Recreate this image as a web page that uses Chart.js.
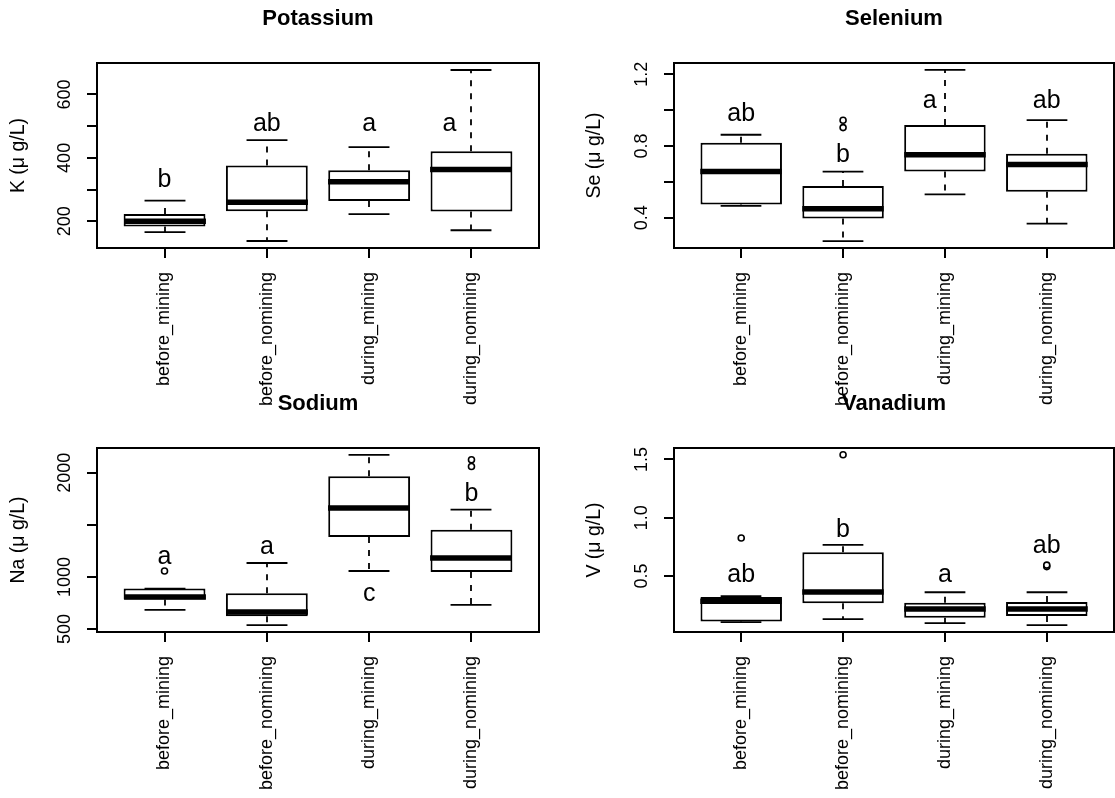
<!DOCTYPE html>
<html>
<head>
<meta charset="utf-8">
<script src="https://cdn.jsdelivr.net/npm/chart.js@4.4.1/dist/chart.umd.min.js"></script>
<style>
  html, body { margin: 0; padding: 0; background: #fff; }
  #fig { position: relative; width: 1115px; height: 798px; overflow: hidden; background: #fff; }
  #fig canvas { position: absolute; }
</style>
</head>
<body>
<div id="fig">
  <canvas id="cK"  style="left:0px;top:0px"     width="557" height="420"></canvas>
  <canvas id="cSe" style="left:557px;top:0px"   width="558" height="420"></canvas>
  <canvas id="cNa" style="left:0px;top:385px"   width="557" height="413"></canvas>
  <canvas id="cV"  style="left:557px;top:385px" width="558" height="413"></canvas>
</div>
<script>
	// groups on the x axis
	var groups = ['before_mining', 'before_nomining', 'during_mining', 'during_nomining'];

	// Potassium: whisker low, Q1, median, Q3, whisker high
	var kLow  = [166, 138, 223, 172];
	var kQ1   = [184, 232, 264, 231];
	var kMed  = [200, 260, 325, 363];
	var kQ3   = [223, 376, 361, 421];
	var kHigh = [265, 456, 434, 677];
	var kOutGroup = [];
	var kOutVal   = [];
	var kTicks      = [200, 300, 400, 500, 600];
	var kTickLabels = ['200', '', '400', '', '600'];
	var kLetters = ['b', 'ab', 'a', 'a'];
	var kLetterX = [1, 2, 3, 3.785];
	var kLetterY = [308, 485, 485, 485];

	// Selenium
	var seLow  = [0.467, 0.270, 0.531, 0.368];
	var seQ1   = [0.474, 0.397, 0.658, 0.546];
	var seMed  = [0.658, 0.451, 0.751, 0.698];
	var seQ3   = [0.818, 0.578, 0.917, 0.757];
	var seHigh = [0.863, 0.658, 1.225, 0.945];
	var seOutGroup = [2, 2];
	var seOutVal   = [0.903, 0.944];
	var seTicks      = [0.4, 0.6, 0.8, 1.0, 1.2];
	var seTickLabels = ['0.4', '', '0.8', '', '1.2'];
	var seLetters = ['ab', 'b', 'a', 'ab'];
	var seLetterX = [1, 2, 2.85, 4];
	var seLetterY = [0.94, 0.709, 1.014, 1.014];

	// Sodium
	var naLow  = [684, 537, 1057, 732];
	var naQ1   = [783, 624, 1383, 1048];
	var naMed  = [808, 665, 1661, 1182];
	var naQ3   = [889, 844, 1965, 1454];
	var naHigh = [889, 1134, 2172, 1646];
	var naOutGroup = [1, 4, 4];
	var naOutVal   = [1057, 2060, 2125];
	var naTicks      = [500, 1000, 1500, 2000];
	var naTickLabels = ['500', '1000', '', '2000'];
	var naLetters = ['a', 'a', 'c', 'b'];
	var naLetterX = [1, 2, 3, 4];
	var naLetterY = [1122, 1217, 767, 1728];

	// Vanadium
	var vLow  = [0.103, 0.129, 0.095, 0.077];
	var vQ1   = [0.109, 0.266, 0.140, 0.155];
	var vMed  = [0.283, 0.363, 0.217, 0.217];
	var vQ3   = [0.320, 0.703, 0.269, 0.277];
	var vHigh = [0.326, 0.766, 0.360, 0.360];
	var vOutGroup = [1, 2, 4, 4];
	var vOutVal   = [0.826, 1.54, 0.580, 0.593];
	var vTicks      = [0.5, 1.0, 1.5];
	var vTickLabels = ['0.5', '1.0', '1.5'];
	var vLetters = ['ab', 'b', 'a', 'ab'];
	var vLetterX = [1, 2, 3, 4];
	var vLetterY = [0.449, 0.834, 0.449, 0.697];

	var FONT = "'Liberation Sans', Arial, Helvetica, sans-serif";

	// R style extras: whiskers, medians, frame, title, rotated y labels, letters
	function boxExtras(p) {
		function seg(ctx, x1, y1, x2, y2) {
			ctx.beginPath();
			ctx.moveTo(x1, y1);
			ctx.lineTo(x2, y2);
			ctx.stroke();
		}
		return {
			id: 'boxExtras',
			afterDatasetsDraw: function(chart) {
				var ctx = chart.ctx, x = chart.scales.x, y = chart.scales.y;
				var bw = chart.getDatasetMeta(0).data[0].width;
				ctx.save();
				ctx.strokeStyle = '#000';
				ctx.lineCap = 'butt';
				for (var i = 0; i < groups.length; i++) {
					var cx = Math.round(x.getPixelForValue(i + 1));
					var yLo = y.getPixelForValue(p.low[i]), yQ1 = y.getPixelForValue(p.q1[i]);
					var yMe = y.getPixelForValue(p.med[i]), yQ3 = y.getPixelForValue(p.q3[i]);
					var yHi = y.getPixelForValue(p.high[i]);
					ctx.lineWidth = 1.8;
					ctx.setLineDash([6, 7]);
					seg(ctx, cx, yQ3, cx, yHi);
					seg(ctx, cx, yQ1, cx, yLo);
					ctx.setLineDash([]);
					seg(ctx, cx - bw / 4, yHi, cx + bw / 4, yHi);
					seg(ctx, cx - bw / 4, yLo, cx + bw / 4, yLo);
					ctx.lineWidth = 5.5;
					seg(ctx, cx - bw / 2, yMe, cx + bw / 2, yMe);
				}
				ctx.restore();
			},
			afterDraw: function(chart) {
				var ctx = chart.ctx, a = chart.chartArea, x = chart.scales.x, y = chart.scales.y;
				ctx.save();
				ctx.strokeStyle = '#000';
				ctx.lineWidth = 2;
				ctx.strokeRect(a.left, a.top, a.right - a.left, a.bottom - a.top);

				ctx.fillStyle = '#000';
				ctx.textAlign = 'center';
				ctx.textBaseline = 'middle';
				ctx.font = 'bold 22px ' + FONT;
				ctx.fillText(p.title, (a.left + a.right) / 2, a.top - 44);

				ctx.font = '18px ' + FONT;
				p.ticks.forEach(function(v, i) {
					if (!p.tickLabels[i]) return;
					ctx.save();
					ctx.translate(a.left - 32, y.getPixelForValue(v));
					ctx.rotate(-Math.PI / 2);
					ctx.fillText(p.tickLabels[i], 0, 0);
					ctx.restore();
				});

				ctx.font = '25px ' + FONT;
				ctx.textBaseline = 'alphabetic';
				p.letters.forEach(function(t, i) {
					ctx.fillText(t, x.getPixelForValue(p.letterX[i]), y.getPixelForValue(p.letterY[i]));
				});
				ctx.restore();
			}
		};
	}

	function makePanel(id, p) {
		var ctx = document.getElementById(id).getContext('2d');
		var tickGrid = { display: true, offset: false, drawOnChartArea: false, drawTicks: true, tickLength: 10, color: '#000', lineWidth: 2 };
		return new Chart(ctx, {
			type: 'bar',
			data: {
				datasets: [{
					type: 'bar',
					data: groups.map(function(g, i) { return { x: i + 1, y: [p.q1[i], p.q3[i]] }; }),
					backgroundColor: '#fff',
					borderColor: '#000',
					borderWidth: 2,
					borderSkipped: false,
					barPercentage: 0.8,
					categoryPercentage: 1
				}, {
					type: 'scatter',
					data: p.outGroup.map(function(g, i) { return { x: g, y: p.outVal[i] }; }),
					pointRadius: 3,
					pointBorderWidth: 1.6,
					pointBackgroundColor: '#fff',
					pointBorderColor: '#000'
				}]
			},
			options: {
				responsive: false,
				animation: false,
				events: [],
				layout: { autoPadding: false, padding: { top: 63, right: p.padRight, bottom: 0, left: 0 } },
				plugins: { legend: { display: false }, tooltip: { enabled: false }, title: { display: false } },
				scales: {
					x: {
						type: 'linear', min: 0.34, max: 4.66, offset: false,
						afterBuildTicks: function(s) { s.ticks = groups.map(function(g, i) { return { value: i + 1 }; }); },
						afterFit: function(s) { s.height = p.xAxisH; s.paddingLeft = 0; s.paddingRight = 0; },
						grid: tickGrid,
						border: { display: false },
						ticks: {
							autoSkip: false, minRotation: 90, maxRotation: 90, padding: 14, color: '#000',
							font: { family: FONT, size: 18 },
							callback: function(v) { return groups[Math.round(v) - 1]; }
						}
					},
					y: {
						type: 'linear', min: p.yMin, max: p.yMax,
						afterBuildTicks: function(s) { s.ticks = p.ticks.map(function(v) { return { value: v }; }); },
						afterFit: function(s) { s.width = p.yAxisW; },
						grid: tickGrid,
						border: { display: false },
						ticks: { display: false },
						title: {
							display: true, text: p.ylab, color: '#000',
							font: { family: FONT, size: 19.5 },
							padding: { top: p.ylabPad, bottom: 0 }
						}
					}
				}
			},
			plugins: [boxExtras(p)]
		});
	}

	makePanel('cK', {
		title: 'Potassium', ylab: 'K (\u03bc g/L)', yMin: 116, yMax: 699,
		low: kLow, q1: kQ1, med: kMed, q3: kQ3, high: kHigh, outGroup: kOutGroup, outVal: kOutVal,
		ticks: kTicks, tickLabels: kTickLabels, letters: kLetters, letterX: kLetterX, letterY: kLetterY,
		yAxisW: 97, padRight: 18, xAxisH: 172, ylabPad: 7
	});
	makePanel('cSe', {
		title: 'Selenium', ylab: 'Se (\u03bc g/L)', yMin: 0.232, yMax: 1.263,
		low: seLow, q1: seQ1, med: seMed, q3: seQ3, high: seHigh, outGroup: seOutGroup, outVal: seOutVal,
		ticks: seTicks, tickLabels: seTickLabels, letters: seLetters, letterX: seLetterX, letterY: seLetterY,
		yAxisW: 117, padRight: 1, xAxisH: 172, ylabPad: 26
	});
	makePanel('cNa', {
		title: 'Sodium', ylab: 'Na (\u03bc g/L)', yMin: 472, yMax: 2237,
		low: naLow, q1: naQ1, med: naMed, q3: naQ3, high: naHigh, outGroup: naOutGroup, outVal: naOutVal,
		ticks: naTicks, tickLabels: naTickLabels, letters: naLetters, letterX: naLetterX, letterY: naLetterY,
		yAxisW: 97, padRight: 18, xAxisH: 166, ylabPad: 7
	});
	makePanel('cV', {
		title: 'Vanadium', ylab: 'V (\u03bc g/L)', yMin: 0.0185, yMax: 1.5985,
		low: vLow, q1: vQ1, med: vMed, q3: vQ3, high: vHigh, outGroup: vOutGroup, outVal: vOutVal,
		ticks: vTicks, tickLabels: vTickLabels, letters: vLetters, letterX: vLetterX, letterY: vLetterY,
		yAxisW: 117, padRight: 1, xAxisH: 166, ylabPad: 26
	});
</script>
</body>
</html>
